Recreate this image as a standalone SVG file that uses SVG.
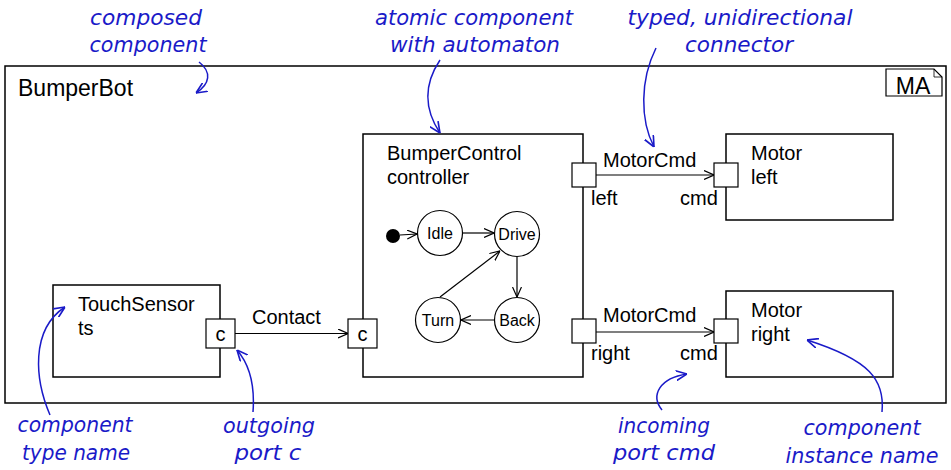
<svg xmlns="http://www.w3.org/2000/svg" width="951" height="470" viewBox="0 0 951 470">
<style>
.box{fill:#fff;stroke:#000;stroke-width:1.5}
.port{fill:#fff;stroke:#000;stroke-width:1.2}
.st{fill:#fff;stroke:#000;stroke-width:1.2}
.t{font-family:"Liberation Sans",Arial,sans-serif;font-size:20px;fill:#000}
.ts{font-family:"Liberation Sans",Arial,sans-serif;font-size:16px;fill:#000}
.big{font-family:"Liberation Sans",Arial,sans-serif;font-size:23px;fill:#000}
.ann{font-family:"DejaVu Sans",sans-serif;font-style:italic;font-size:21px;fill:#1a1ac8}
.conn{fill:none;stroke:#000;stroke-width:1.2}
.note{fill:none;stroke:#1a1ac8;stroke-width:1.5}
</style>
<defs>
<marker id="v" viewBox="0 0 10 10" refX="10" refY="5" markerWidth="10" markerHeight="10" orient="auto" markerUnits="userSpaceOnUse"><path d="M0,0.5 L10,5 L0,9.5" fill="none" stroke="#000" stroke-width="1.2"/></marker>
<marker id="vb" viewBox="0 0 10 10" refX="10" refY="5" markerWidth="11" markerHeight="11" orient="auto" markerUnits="userSpaceOnUse"><path d="M0,0.5 L10,5 L0,9.5" fill="none" stroke="#1a1ac8" stroke-width="1.5"/></marker>
</defs>
<rect width="951" height="470" fill="#fff"/>

<g id="BumperBot">
<rect class="box" x="5" y="66" width="941" height="337" stroke-width="2"/>
<text class="big" x="18" y="96">BumperBot</text>
<g id="MA">
<path d="M886,69 L934,69 L942,77 L942,96 L886,96 Z" fill="#fff" stroke="#000" stroke-width="1.2"/>
<path d="M934,69 L934,77 L942,77" fill="none" stroke="#000" stroke-width="0.8"/>
<text class="big" x="913" y="94" text-anchor="middle">MA</text>
</g>
</g>

<g id="ts">
<rect class="box" x="53" y="285" width="167" height="92"/>
<text class="t" x="78" y="311">TouchSensor</text>
<text class="t" x="78" y="335">ts</text>
<rect class="port" x="206" y="319" width="29" height="29"/>
<text class="t" x="220.5" y="341" text-anchor="middle">c</text>
</g>

<g id="controller">
<rect class="box" x="363" y="134" width="220" height="243"/>
<text class="t" x="387" y="160">BumperControl</text>
<text class="t" x="387" y="184">controller</text>
<rect class="port" x="348" y="319" width="29" height="29"/>
<text class="t" x="362.5" y="341" text-anchor="middle">c</text>
<rect class="port" x="572" y="163" width="24" height="24"/>
<text class="t" x="591" y="205">left</text>
<rect class="port" x="572" y="319" width="24" height="24"/>
<text class="t" x="591" y="360">right</text>
<g id="automaton">
<circle cx="393" cy="236" r="7" fill="#000"/>
<circle class="st" cx="440" cy="233" r="22.5"/>
<text class="ts" x="440" y="239" text-anchor="middle">Idle</text>
<circle class="st" cx="517" cy="234" r="22.5"/>
<text class="ts" x="517" y="240" text-anchor="middle">Drive</text>
<circle class="st" cx="517" cy="320" r="22.5"/>
<text class="ts" x="517" y="326" text-anchor="middle">Back</text>
<circle class="st" cx="438" cy="320" r="22.5"/>
<text class="ts" x="438" y="326" text-anchor="middle">Turn</text>
<line class="conn" x1="400" y1="235" x2="417" y2="234" marker-end="url(#v)"/>
<line class="conn" x1="463" y1="233" x2="494" y2="233" marker-end="url(#v)"/>
<line class="conn" x1="517" y1="257" x2="517" y2="297" marker-end="url(#v)"/>
<line class="conn" x1="494" y1="320" x2="461" y2="320" marker-end="url(#v)"/>
<line class="conn" x1="440" y1="297" x2="500" y2="251" marker-end="url(#v)"/>
</g>
</g>

<g id="left">
<rect class="box" x="726" y="134" width="167" height="86"/>
<text class="t" x="751" y="160">Motor</text>
<text class="t" x="751" y="184">left</text>
<rect class="port" x="714" y="163" width="24" height="24"/>
<text class="t" x="680" y="205">cmd</text>
</g>

<g id="right">
<rect class="box" x="726" y="291" width="167" height="86"/>
<text class="t" x="751" y="317">Motor</text>
<text class="t" x="751" y="341">right</text>
<rect class="port" x="714" y="319" width="24" height="24"/>
<text class="t" x="680" y="360">cmd</text>
</g>

<g id="connectors">
<line class="conn" x1="235" y1="333.5" x2="348" y2="333.5" marker-end="url(#v)"/>
<text class="t" x="252" y="324">Contact</text>
<line class="conn" x1="596" y1="175" x2="714" y2="175" marker-end="url(#v)"/>
<text class="t" x="603" y="167">MotorCmd</text>
<line class="conn" x1="596" y1="332" x2="714" y2="332" marker-end="url(#v)"/>
<text class="t" x="603" y="322">MotorCmd</text>
</g>

<g id="annotations">
<text class="ann" x="146" y="25" text-anchor="middle" textLength="112" lengthAdjust="spacingAndGlyphs">composed</text>
<text class="ann" x="148" y="52" text-anchor="middle" textLength="117" lengthAdjust="spacingAndGlyphs">component</text>
<path class="note" d="M199,62 C212,72 210,84 196,93" marker-end="url(#vb)"/>

<text class="ann" x="474" y="25" text-anchor="middle" textLength="198" lengthAdjust="spacingAndGlyphs">atomic component</text>
<text class="ann" x="475" y="52" text-anchor="middle" textLength="170" lengthAdjust="spacingAndGlyphs">with automaton</text>
<path class="note" d="M440,60 C420,90 428,115 440,133" marker-end="url(#vb)"/>

<text class="ann" x="740" y="25" text-anchor="middle" textLength="225" lengthAdjust="spacingAndGlyphs">typed, unidirectional</text>
<text class="ann" x="739" y="52" text-anchor="middle" textLength="108" lengthAdjust="spacingAndGlyphs">connector</text>
<path class="note" d="M656,48 C640,80 640,120 654,147" marker-end="url(#vb)"/>

<text class="ann" x="75" y="432" text-anchor="middle" textLength="115" lengthAdjust="spacingAndGlyphs">component</text>
<text class="ann" x="76" y="460" text-anchor="middle" textLength="108" lengthAdjust="spacingAndGlyphs">type name</text>
<path class="note" d="M50,415 C35,380 30,330 65,307" marker-end="url(#vb)"/>

<text class="ann" x="269" y="433" text-anchor="middle" textLength="92" lengthAdjust="spacingAndGlyphs">outgoing</text>
<text class="ann" x="268" y="460" text-anchor="middle" textLength="67" lengthAdjust="spacingAndGlyphs">port c</text>
<path class="note" d="M253,412 C255,385 250,365 237,350" marker-end="url(#vb)"/>

<text class="ann" x="664" y="433" text-anchor="middle" textLength="92" lengthAdjust="spacingAndGlyphs">incoming</text>
<text class="ann" x="664" y="460" text-anchor="middle" textLength="102" lengthAdjust="spacingAndGlyphs">port cmd</text>
<path class="note" d="M662,410 C650,395 660,378 687,374" marker-end="url(#vb)"/>

<text class="ann" x="862" y="435" text-anchor="middle" textLength="117" lengthAdjust="spacingAndGlyphs">component</text>
<text class="ann" x="862" y="463" text-anchor="middle" textLength="153" lengthAdjust="spacingAndGlyphs">instance name</text>
<path class="note" d="M882,412 C885,380 870,360 807,340" marker-end="url(#vb)"/>
</g>
</svg>
